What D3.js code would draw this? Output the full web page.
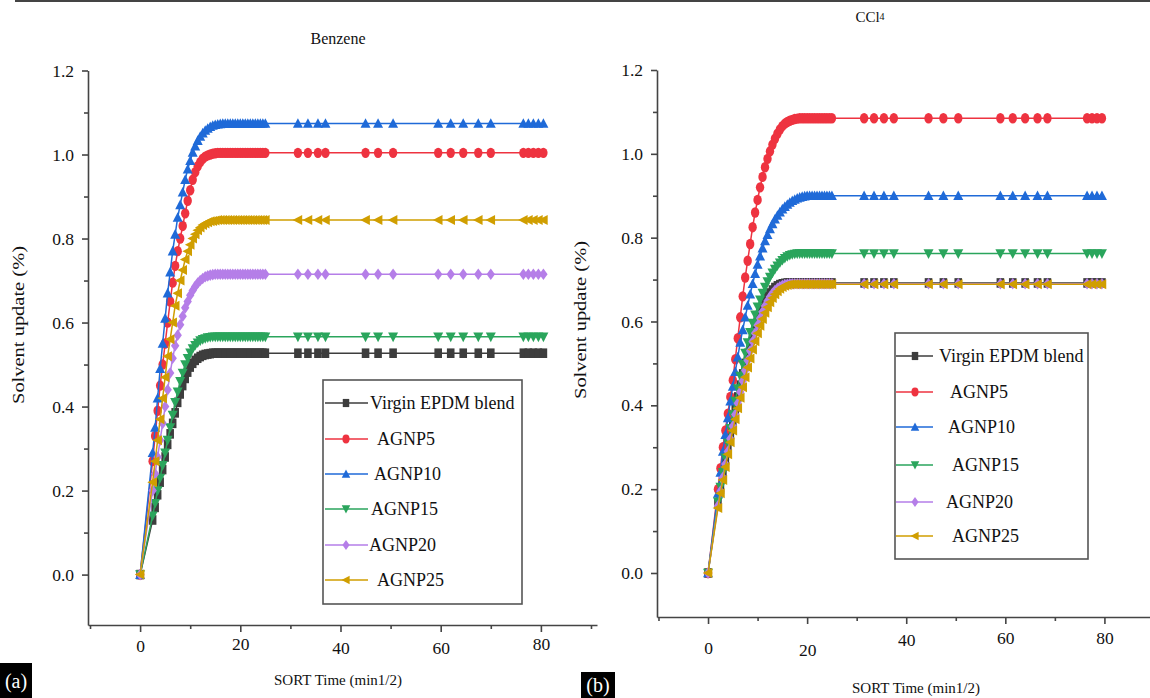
<!DOCTYPE html>
<html><head><meta charset="utf-8">
<script src="https://cdn.jsdelivr.net/npm/d3@7"></script>
<style>
body{margin:0;background:#fff}
svg{display:block}
</style>
</head><body>
<svg id="c" width="1150" height="698" style="font-family:'Liberation Serif','Times New Roman',Times,serif"></svg>
<script>
// ---------------- DATA ----------------
const seriesNames = ["Virgin EPDM blend","AGNP5","AGNP10","AGNP15","AGNP20","AGNP25"];
const seriesColors = ["#3d3d3d","#ee3340","#1f6ad8","#2aa55c","#b57ee8","#d09e00"];
const seriesSymbols = ["square","circle","triangle","triangleDown","diamond","triangleLeft"];
const xTickValues = [0,20,40,60,80];
const xMinorTicks = [-10,10,30,50,70,90];
const yTickValues = [0.0,0.2,0.4,0.6,0.8,1.0,1.2];
const yMinorTicks = [0.1,0.3,0.5,0.7,0.9,1.1];

// Benzene (a)
const timesA = [0,2.5,3,3.5,4,4.5,5,5.5,6,6.5,7,7.5,8,8.5,9,9.5,10,10.5,11,11.5,12,12.5,13,13.5,14,14.5,15,15.5,16,16.5,17,17.5,18,18.5,19,19.5,20,20.5,21,21.5,22,22.5,23,23.5,24,24.5,25,
  31.5,33.5,35.5,37,45,47.5,50.5,59.5,62,64.5,67.5,70,76.5,77.5,78.5,79.5,80.5];
const benzeneVirgin = [0,.13,.16,.19,.22,.25,.28,.31,.335,.36,.385,.41,.43,.45,.467,.482,.494,.503,.51,.515,.519,.522,.524,.525,.526,
  .527,.527,.527,.527,.527,.527,.527,.527,.527,.527,
  .527,.527,.527,.527,.527,.527,.527,.527,.527,.527,
  .527,.527,.527,.527,.527,.527,.527,.527,.527,.527,
  .527,.527,.527,.527,.527,.527,.527,.527,.527];
const benzeneAGNP5 = [0,.27,.33,.39,.45,.50,.55,.60,.65,.695,.735,.77,.80,.83,.86,.89,.915,.94,.958,.972,.982,.99,.995,.998,1.0,1.002,1.003,
  1.004,1.004,1.004,1.004,1.004,1.004,1.004,1.004,1.004,1.004,
  1.004,1.004,1.004,1.004,1.004,1.004,1.004,1.004,1.004,1.004,
  1.004,1.004,1.004,1.004,1.004,1.004,1.004,1.004,1.004,1.004,
  1.004,1.004,1.004,1.004,1.004,1.004,1.004];
const benzeneAGNP10 = [0,.29,.35,.42,.49,.55,.61,.67,.72,.77,.81,.85,.88,.91,.94,.965,.985,1.005,1.02,1.033,1.043,1.051,1.057,1.062,1.066,1.069,1.071,1.072,1.073,
  1.074,1.074,1.074,1.074,1.074,1.074,1.074,1.074,1.074,1.074,
  1.074,1.074,1.074,1.074,1.074,1.074,1.074,1.074,1.074,1.074,
  1.074,1.074,1.074,1.074,1.074,1.074,1.074,1.074,1.074,1.074,
  1.074,1.074,1.074,1.074,1.074];
const benzeneAGNP15 = [0,.14,.17,.20,.23,.26,.29,.32,.35,.38,.41,.435,.46,.48,.50,.515,.528,.538,.546,.552,.557,.56,.562,.564,.565,
  .566,.566,.566,.566,.566,.566,.566,.566,.566,.566,
  .566,.566,.566,.566,.566,.566,.566,.566,.566,.566,
  .566,.566,.566,.566,.566,.566,.566,.566,.566,.566,
  .566,.566,.566,.566,.566,.566,.566,.566,.566];
const benzeneAGNP20 = [0,.20,.24,.28,.32,.36,.40,.44,.48,.515,.545,.57,.595,.615,.635,.65,.665,.676,.686,.694,.70,.705,.709,.711,.713,.714,
  .715,.715,.715,.715,.715,.715,.715,.715,.715,.715,
  .715,.715,.715,.715,.715,.715,.715,.715,.715,.715,
  .715,.715,.715,.715,.715,.715,.715,.715,.715,.715,
  .715,.715,.715,.715,.715,.715,.715,.715];
const benzeneAGNP25 = [0,.22,.27,.32,.37,.42,.47,.52,.56,.60,.64,.67,.70,.725,.75,.77,.785,.80,.81,.82,.826,.832,.836,.839,.841,.842,.843,
  .844,.844,.844,.844,.844,.844,.844,.844,.844,.844,
  .844,.844,.844,.844,.844,.844,.844,.844,.844,.844,
  .844,.844,.844,.844,.844,.844,.844,.844,.844,.844,
  .844,.844,.844,.844,.844,.844,.844];

// CCl4 (b)
const timesB = [0,2,2.5,3,3.5,4,4.5,5,5.5,6,6.5,7,7.5,8,8.5,9,9.5,10,10.5,11,11.5,12,12.5,13,13.5,14,14.5,15,15.5,16,16.5,17,17.5,18,18.5,19,19.5,20,20.5,21,21.5,22,22.5,23,23.5,24,24.5,25,
  31.5,33.5,35.5,37.5,44.5,47.5,50.5,59,61.5,64,66.5,68.5,76.5,77.5,78.5,79.5];
const cclVirgin = [0,.165,.2,.235,.27,.3,.33,.36,.39,.42,.448,.475,.5,.524,.546,.567,.587,.605,.621,.635,.648,.659,.668,.675,.681,.685,.688,.69,.691,
  .692,.692,.692,.692,.692,.692,.692,.692,.692,.692,
  .692,.692,.692,.692,.692,.692,.692,.692,.692,.692,
  .692,.692,.692,.692,.692,.692,.692,.692,.692,.692,
  .692,.692,.692,.692,.692];
const cclAGNP5 = [0,.20,.25,.30,.34,.38,.42,.46,.51,.56,.61,.66,.705,.745,.785,.825,.86,.89,.92,.945,.968,.988,1.006,1.022,1.036,1.048,1.058,1.066,1.072,1.076,1.079,1.081,1.083,1.084,
  1.085,1.085,1.085,1.085,1.085,1.085,1.085,1.085,1.085,1.085,
  1.085,1.085,1.085,1.085,1.085,1.085,1.085,1.085,1.085,1.085,
  1.085,1.085,1.085,1.085,1.085,1.085,1.085,1.085,1.085,1.085];
const cclAGNP10 = [0,.19,.24,.29,.33,.37,.41,.445,.48,.515,.55,.58,.61,.638,.665,.69,.714,.736,.756,.775,.792,.807,.821,.833,.844,.853,.861,.868,.874,.879,.884,.888,.891,.894,.896,.898,.899,
  .9,.9,.9,.9,.9,.9,.9,.9,.9,.9,
  .9,.9,.9,.9,.9,.9,.9,.9,.9,.9,
  .9,.9,.9,.9,.9,.9,.9];
const cclAGNP15 = [0,.17,.205,.24,.275,.31,.345,.378,.41,.44,.47,.498,.525,.55,.574,.596,.616,.635,.652,.668,.682,.695,.706,.716,.725,.733,.74,.746,.751,.755,.758,.76,.761,
  .762,.762,.762,.762,.762,.762,.762,.762,.762,.762,
  .762,.762,.762,.762,.762,.762,.762,.762,.762,.762,
  .762,.762,.762,.762,.762,.762,.762,.762,.762,.762,
  .762];
const cclAGNP20 = [0,.16,.195,.228,.26,.29,.32,.35,.378,.405,.432,.458,.483,.507,.53,.552,.572,.591,.608,.623,.637,.649,.659,.667,.674,.679,.683,.686,.688,.689,
  .69,.69,.69,.69,.69,.69,.69,.69,.69,.69,
  .69,.69,.69,.69,.69,.69,.69,.69,.69,.69,
  .69,.69,.69,.69,.69,.69,.69,.69,.69,.69,
  .69,.69,.69,.69];
const cclAGNP25 = [0,.155,.19,.222,.253,.283,.312,.34,.367,.393,.418,.443,.467,.49,.512,.533,.553,.572,.59,.606,.621,.634,.646,.656,.665,.672,.678,.682,.685,.687,.688,
  .689,.689,.689,.689,.689,.689,.689,.689,.689,.689,
  .689,.689,.689,.689,.689,.689,.689,.689,.689,.689,
  .689,.689,.689,.689,.689,.689,.689,.689,.689,.689,
  .689,.689,.689];

// ---------------- DRAWING ----------------
const svg = d3.select("#c");
const FONT = "'Liberation Serif','Times New Roman',Times,serif";

svg.append("line").attr("x1",15).attr("x2",1150).attr("y1",1).attr("y2",1)
  .attr("stroke","#444").attr("stroke-width",2);

function markerPath(sym){
  switch(sym){
    case "square": return "M-3.8,-4.8H3.8V4.8H-3.8Z";
    case "circle": return "M-4.2,0a4.2,5.2 0 1,0 8.4,0a4.2,5.2 0 1,0 -8.4,0Z";
    case "triangle": return "M0,-5.3L5,4.3L-5,4.3Z";
    case "triangleDown": return "M0,5.3L5,-4.3L-5,-4.3Z";
    case "diamond": return "M0,-5.8L4.2,0L0,5.8L-4.2,0Z";
    case "triangleLeft": return "M-5.3,0L4.3,-5L4.3,5Z";
  }
}

function txt(sel){ return sel.style("font-family",FONT).style("fill","#111"); }

function drawPanel(p){
  const g = svg.append("g");
  const x = d3.scaleLinear().domain(p.xDomain).range(p.xRange);
  const y = d3.scaleLinear().domain(p.yDomain).range(p.yRange);

  const ax = g.append("g").attr("transform",`translate(0,${p.yRange[0]})`)
    .call(d3.axisBottom(x).tickValues(xTickValues).tickFormat(d3.format("d")).tickSize(7).tickPadding(p.xPad).tickSizeOuter(0));
  ax.selectAll(".tick text").attr("transform",(d,i)=>`translate(0,${p.xJitter[i]})`);
  const axm = g.append("g").attr("transform",`translate(0,${p.yRange[0]})`)
    .call(d3.axisBottom(x).tickValues(xMinorTicks).tickFormat("").tickSize(4).tickSizeOuter(0));
  axm.select(".domain").remove();
  const ay = g.append("g").attr("transform",`translate(${p.xRange[0]},0)`)
    .call(d3.axisLeft(y).tickValues(yTickValues).tickFormat(d3.format(".1f")).tickSize(6).tickPadding(8).tickSizeOuter(0));
  const aym = g.append("g").attr("transform",`translate(${p.xRange[0]},0)`)
    .call(d3.axisLeft(y).tickValues(yMinorTicks).tickFormat("").tickSize(4).tickSizeOuter(0));
  aym.select(".domain").remove();
  [ax,axm,ay,aym].forEach(a=>{
    a.attr("font-family",null);
    a.selectAll("path,line").attr("stroke","#444").attr("stroke-width",1.6);
    txt(a.selectAll("text")).style("font-size","17.5px");
  });

  p.series.forEach((vals,i)=>{
    const n = Math.min(vals.length,p.times.length);
    const pts = [];
    for(let k=0;k<n;k++) pts.push([p.times[k],vals[k]]);
    g.append("path").datum(pts)
      .attr("fill","none").attr("stroke",seriesColors[i]).attr("stroke-width",1.5)
      .attr("d",d3.line().x(d=>x(d[0])).y(d=>y(d[1])));
    g.append("g").selectAll("path").data(pts).join("path")
      .attr("transform",d=>`translate(${x(d[0])},${y(d[1])})`)
      .attr("d",markerPath(seriesSymbols[i]))
      .attr("fill",seriesColors[i]);
  });

  const L = p.legend;
  g.append("rect").attr("x",L.x).attr("y",L.y).attr("width",L.w).attr("height",L.h)
    .attr("fill","#fff").attr("stroke","#555").attr("stroke-width",1.6);
  seriesNames.forEach((nm,i)=>{
    const ry = L.rows[i];
    g.append("line").attr("x1",L.x1).attr("x2",L.x2).attr("y1",ry).attr("y2",ry)
      .attr("stroke",seriesColors[i]).attr("stroke-width",1.4);
    g.append("path").attr("transform",`translate(${L.mx},${ry}) scale(0.85)`)
      .attr("d",markerPath(seriesSymbols[i])).attr("fill",seriesColors[i]);
    txt(g.append("text").attr("x",L.tx[i]).attr("y",ry).attr("dy","0.35em"))
      .style("font-size","18px").text(nm);
  });

  txt(g.append("text").attr("transform",`translate(${p.yLabel[0]},${p.yLabel[1]}) rotate(-90)`)
    .attr("text-anchor","middle").attr("dy","0.35em")
    .attr("textLength",158).attr("lengthAdjust","spacingAndGlyphs"))
    .style("font-size","16px").text("Solvent update (%)");
  txt(g.append("text").attr("x",p.xLabel[0]).attr("y",p.xLabel[1]).attr("dy","0.35em")
    .attr("text-anchor","middle")).style("font-size","15px").text("SORT Time (min1/2)");

  g.append("rect").attr("x",p.tag.x).attr("y",p.tag.y).attr("width",p.tag.w).attr("height",p.tag.h).attr("fill","#000");
  g.append("text").attr("x",p.tag.x+p.tag.w/2).attr("y",p.tag.y+p.tag.h/2).attr("dy","0.35em")
    .attr("text-anchor","middle").style("font-family",FONT).style("font-size","20px").style("fill","#fff").text(p.tag.label);
  return g;
}

const gA = drawPanel({
  times: timesA,
  series: [benzeneVirgin,benzeneAGNP5,benzeneAGNP10,benzeneAGNP15,benzeneAGNP20,benzeneAGNP25],
  xDomain:[-10.4,91.2], xRange:[88,597],
  yDomain:[-0.12,1.2], yRange:[625,70.5],
  xPad:8, xJitter:[0,-2,2,2,-2],
  legend:{x:323,y:380,w:199,h:224,rows:[403,439,474,509,545,580],x1:325,x2:368,mx:346,tx:[370,377,374,371,369,377]},
  yLabel:[18,325], xLabel:[338,680],
  tag:{x:0,y:663,w:32,h:35,label:"(a)"}
});
txt(gA.append("text").attr("x",338).attr("y",38).attr("dy","0.35em").attr("text-anchor","middle"))
  .style("font-size","16px").text("Benzene");

const gB = drawPanel({
  times: timesB,
  series: [cclVirgin,cclAGNP5,cclAGNP10,cclAGNP15,cclAGNP20,cclAGNP25],
  xDomain:[-10.3,89.2], xRange:[657,1150],
  yDomain:[-0.105,1.2], yRange:[617,70],
  xPad:15, xJitter:[3,5,-5,-7,-7],
  legend:{x:895,y:333,w:193,h:226,rows:[356,392,427,465,502,536],x1:896,x2:933,mx:915,tx:[939,950,948,952,946,952]},
  yLabel:[580,320], xLabel:[916,688],
  tag:{x:581,y:672,w:34,h:26,label:"(b)"}
});
const tB = txt(gB.append("text").attr("x",870).attr("y",17).attr("dy","0.35em").attr("text-anchor","middle")).style("font-size","15px");
tB.append("tspan").text("CCl");
tB.append("tspan").style("font-size","10px").attr("dy","-0.2em").text("4");
</script>
</body></html>
